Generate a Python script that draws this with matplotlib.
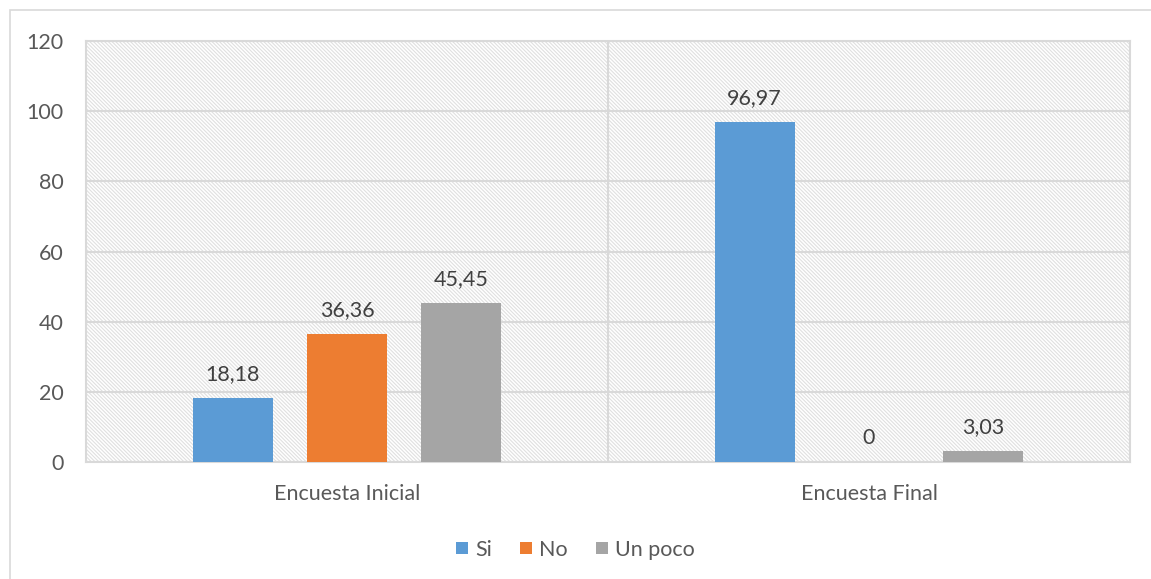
import numpy as np
import matplotlib.pyplot as plt
from matplotlib.patches import Rectangle

categories = ["Encuesta Inicial", "Encuesta Final"]
series = ["Si", "No", "Un poco"]
values = {
    "Si": [18.18, 96.97],
    "No": [36.36, 0],
    "Un poco": [45.45, 3.03],
}
colors = ["#5b9bd5", "#ed7d31", "#a5a5a5"]
yticks = [0, 20, 40, 60, 80, 100, 120]

plt.rcParams['font.family'] = ['Lato', 'DejaVu Sans']
plt.rcParams['hatch.color'] = '#e0e0e0'
plt.rcParams['hatch.linewidth'] = 0.8

fig = plt.figure(figsize=(11.51, 5.79), dpi=100)
ax = fig.add_axes([86 / 1151, 1 - 462 / 579, (1130 - 86) / 1151, (462 - 41) / 579])

# outer chart border (only top/left visible in the reference)
fig.patches.append(Rectangle((10 / 1151, -0.2), 1.2, 1.2 - 10 / 579, transform=fig.transFigure,
                             fill=False, edgecolor='#d9d9d9', linewidth=1.2))

# hatched plot area background
ax.add_patch(Rectangle((0, 0), 1, 1, transform=ax.transAxes, facecolor='white',
                       edgecolor='#e0e0e0', hatch='\\' * 9, linewidth=0, zorder=0))

x = np.arange(len(categories))
width = 0.153
offset = 0.219
fs = 15.5
for i, (name, color) in enumerate(zip(series, colors)):
    pos = x + (i - 1) * offset
    ax.bar(pos, values[name], width, color=color, label=name, zorder=3)
    for xp, v in zip(pos, values[name]):
        txt = "0" if v == 0 else f"{v:.2f}".replace('.', ',')
        ax.annotate(txt, (xp, v), xytext=(0, 10), textcoords='offset points',
                    ha='center', va='bottom', fontsize=fs, color='#404040', zorder=4)

ax.set_xlim(-0.5, 1.5)
ax.set_ylim(0, 120)
ax.set_yticks(yticks)
ax.set_xticks(x)
ax.set_xticklabels(categories)
ax.tick_params(axis='both', length=0, labelsize=fs, labelcolor='#595959')
ax.tick_params(axis='x', pad=16)
ax.tick_params(axis='y', pad=16)

ax.grid(axis='y', color='#d9d9d9', linewidth=1.5, zorder=1)
ax.axvline(0.5, color='#d9d9d9', linewidth=1.5, zorder=1)
ax.set_axisbelow(True)
for s in ax.spines.values():
    s.set_color('#d9d9d9')
    s.set_linewidth(1.5)

fig.legend(loc='lower center', bbox_to_anchor=(0.5, 0.0), ncol=3, frameon=False,
           fontsize=fs, handlelength=0.55, handleheight=0.55, handletextpad=0.35,
           columnspacing=1.3, labelcolor='#595959')

plt.savefig("out.png", dpi=100)
